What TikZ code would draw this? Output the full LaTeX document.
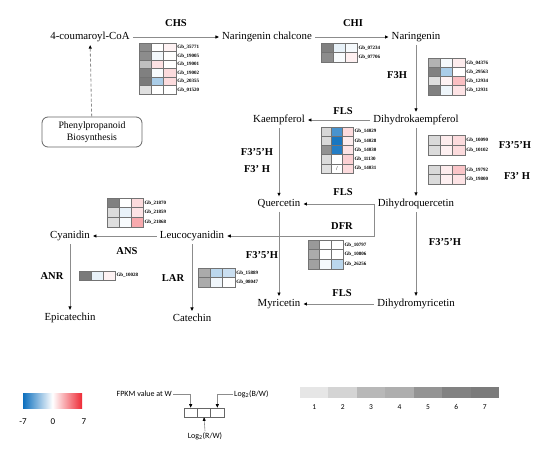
\documentclass[tikz,border=0pt]{standalone}
\usepackage{fontspec}
\setmainfont{Liberation Serif}
\newfontfamily\legfont{Carlito}
\usetikzlibrary{arrows.meta}
\definecolor{bl}{HTML}{0C6FBE}
\definecolor{rd}{HTML}{EE2A35}
\definecolor{lg1}{HTML}{E6E6E6}
\definecolor{lg2}{HTML}{D4D4D4}
\definecolor{lg3}{HTML}{B8B8B8}
\definecolor{lg4}{HTML}{AEAEAE}
\definecolor{lg5}{HTML}{949494}
\definecolor{lg6}{HTML}{828282}
\definecolor{lg7}{HTML}{7B7B7B}
\tikzset{
  cmp/.style={font=\fontsize{10.8}{12}\selectfont, inner sep=3pt},
  enz/.style={font=\fontsize{10.5}{12}\selectfont\bfseries, inner sep=1pt},
  arr/.style={draw=black!45, line width=0.8pt, -{Triangle[length=3.5pt,width=3pt,color=black]}},
  cell/.style={draw=black!55, line width=0.5pt},
  gb/.style={font=\fontsize{5}{6}\selectfont\bfseries, anchor=west, inner sep=0.5pt},
  leg/.style={font=\legfont\fontsize{8}{9}\selectfont, inner sep=1pt},
  lcell/.style={draw=black!60, line width=0.6pt, minimum width=13.33pt, minimum height=9pt, inner sep=0pt},
}
\def\hmw{12}
\def\hmh{9}
\newcommand\hrow[6]{%
  \draw[cell,fill=#3] (#1,#2) rectangle ++(\hmw,\hmh);
  \draw[cell,fill=#4] (#1+\hmw,#2) rectangle ++(\hmw,\hmh);
  \draw[cell,fill=#5] (#1+2*\hmw,#2) rectangle ++(\hmw,\hmh);
  \node[gb] (g#6) at (#1+3*\hmw+0.8,#2+0.5*\hmh) {Gb\_#6};
}
\begin{document}
\begin{tikzpicture}[x=1pt,y=-1pt]
\useasboundingbox[fill=white] (0,0) rectangle (550,449);

% compounds
\node[cmp] (coum) at (90,37) {4-coumaroyl-CoA};
\node[cmp] (chal) at (267,37) {Naringenin chalcone};
\node[cmp] (nar) at (416,37) {Naringenin};
\node[cmp] (dhk) at (416,120) {Dihydrokaempferol};
\node[cmp] (kae) at (279,120) {Kaempferol};
\node[cmp] (que) at (279,204) {Quercetin};
\node[cmp] (dhq) at (416,204) {Dihydroquercetin};
\node[cmp] (leu) at (192,236) {Leucocyanidin};
\node[cmp] (cya) at (70,236) {Cyanidin};
\node[cmp] (epi) at (70,318) {Epicatechin};
\node[cmp] (cat) at (192,318) {Catechin};
\node[cmp] (myr) at (279,304) {Myricetin};
\node[cmp] (dhm) at (416,304) {Dihydromyricetin};
\node[draw=black!60, line width=0.8pt, rounded corners=6pt, minimum width=100pt, minimum height=30pt,
      align=center, font=\fontsize{9.8}{11.5}\selectfont] (phe) at (92,132) {Phenylpropanoid\\Biosynthesis};

% enzymes
\node[enz] (eCHS) at (176,23) {CHS};
\node[enz] (eCHI) at (353,23) {CHI};
\node[enz] (eF3H) at (397,75) {F3H};
\node[enz] (eFLSa) at (343,111) {FLS};
\node[enz] (eF35a) at (257,152) {F3’5’H};
\node[enz] (eF3a) at (257,169) {F3’ H};
\node[enz] (eFLSb) at (343,192) {FLS};
\node[enz] (eDFR) at (342,226) {DFR};
\node[enz] (eF35b) at (262,255) {F3’5’H};
\node[enz] (eF35c) at (515,145) {F3’5’H};
\node[enz] (eF3b) at (517,176) {F3’ H};
\node[enz] (eF35d) at (445,242) {F3’5’H};
\node[enz] (eFLSc) at (342,293) {FLS};
\node[enz] (eANS) at (127,251) {ANS};
\node[enz] (eANR) at (52,276) {ANR};
\node[enz] (eLAR) at (173,278) {LAR};

% connectors
\draw[arr] (coum) -- (chal);
\draw[arr] (chal) -- (nar);
\draw[arr] (nar) -- (dhk);
\draw[arr] (dhk) -- (kae);
\draw[arr] (kae) -- (que);
\draw[arr] (dhk) -- (dhq);
\draw[arr] (dhq) -- (que);
\draw[arr] (dhq.west) |- (leu.east);
\draw[arr] (que) -- (myr);
\draw[arr] (dhq) -- (dhm);
\draw[arr] (dhm) -- (myr);
\draw[arr] (leu) -- (cya);
\draw[arr] (cya) -- (epi);
\draw[arr] (leu) -- (cat);
\draw[arr, densely dashed] (phe) -- (coum);

% heatmaps
% CHS
\def\hmw{12.3}\def\hmh{8.5}
\hrow{139}{43}{black!45}{white}{rd!6}{35771}
\hrow{139}{51.5}{black!45}{bl!5}{white}{19005}
\hrow{139}{60}{black!25}{rd!14}{white}{19001}
\hrow{139}{68.5}{black!50}{bl!3}{rd!17}{19002}
\hrow{139}{77}{black!52}{bl!35}{rd!17}{20355}
\hrow{139}{85.5}{black!12}{white}{white}{01520}
% CHI
\def\hmw{12}\def\hmh{9.5}
\hrow{321}{43}{black!50}{bl!10}{bl!4}{07234}
\hrow{321}{52.5}{black!45}{bl!3}{rd!7}{07706}
% F3H
\def\hmw{12.3}\def\hmh{9.25}
\hrow{428}{58}{black!30}{bl!4}{rd!9}{04376}
\hrow{428}{67.25}{black!50}{bl!35}{white}{29563}
\hrow{428}{76.5}{black!13}{rd!6}{rd!30}{12934}
\hrow{428}{85.75}{black!50}{bl!7}{rd!13}{12931}
% FLS
\def\hmw{10.7}\def\hmh{9.2}
\hrow{321}{127}{black!16}{bl!75}{rd!17}{14029}
\hrow{321}{136.2}{black!15}{bl!95}{rd!9}{14028}
\hrow{321}{145.4}{black!43}{bl!90}{rd!13}{14030}
\hrow{321}{154.6}{black!14}{white}{rd!22}{11130}
\hrow{321}{163.8}{black!12}{white}{rd!17}{14031}
\node[font=\fontsize{6}{6}\selectfont, inner sep=0pt] (slash) at (337.05,168.4) {/};
% F3'5'H right
\def\hmw{12.3}\def\hmh{10}
\hrow{428}{135}{black!15}{rd!9}{rd!17}{10090}
\hrow{428}{145}{black!14}{rd!7}{rd!17}{10102}
% F3'H right
\def\hmw{12.3}\def\hmh{9.5}
\hrow{428}{165}{black!15}{rd!9}{rd!27}{19792}
\hrow{428}{174.5}{black!14}{rd!7}{rd!13}{19800}
% ANS
\def\hmw{12}\def\hmh{9.7}
\hrow{107}{198}{black!50}{white}{rd!17}{21870}
\hrow{107}{207.7}{black!14}{bl!9}{rd!13}{21859}
\hrow{107}{217.4}{black!13}{bl!3}{rd!40}{21868}
% ANR
\def\hmw{12}\def\hmh{9}
\hrow{79}{271}{black!52}{bl!9}{rd!6}{10028}
% LAR
\def\hmw{12.3}\def\hmh{9.5}
\hrow{198}{268}{black!33}{bl!28}{bl!22}{15889}
\hrow{198}{277.5}{black!33}{bl!6}{white}{08047}
% DFR
\def\hmw{11.7}\def\hmh{9.7}
\hrow{308}{240}{black!40}{white}{white}{10797}
\hrow{308}{249.7}{black!33}{white}{white}{10806}
\hrow{308}{259.4}{black!37}{bl!4}{bl!28}{26256}

% colour bar legend
\shade[left color=bl, right color=rd, middle color=white] (23,394) rectangle (82,409);
\node[leg, font=\legfont\fontsize{9}{10}\selectfont] (cm7) at (23,422) {-7};
\node[leg, font=\legfont\fontsize{9}{10}\selectfont] (c0) at (53,422) {0};
\node[leg, font=\legfont\fontsize{9}{10}\selectfont] (cp7) at (84,422) {7};

% cell legend
\node[lcell] (lc1) at (190.67,412.5) {};
\node[lcell] (lc2) at (204,412.5) {};
\node[lcell] (lc3) at (217.33,412.5) {};
\node[leg, anchor=east] (fpkm) at (173,394) {FPKM value at W};
\node[leg, anchor=west] (logbw) at (233,394) {Log\textsubscript{2}(B/W)};
\node[leg] (logrw) at (205,436) {Log\textsubscript{2}(R/W)};
\draw[arr, line width=0.6pt] (fpkm.east) -| (lc1.north);
\draw[arr, line width=0.6pt] (logbw.west) -| (lc3.north);
\draw[arr, line width=0.6pt] (logrw.north) -- (lc2.south);

% gray scale legend
\foreach \i in {1,...,7} {
  \fill[lg\i] (300+\i*28.43-28.43,387) rectangle ++(28.43,11);
  \node[leg, font=\legfont\fontsize{7.5}{8}\selectfont] (gl\i) at (300+\i*28.43-14.2,407) {\i};
}
\end{tikzpicture}
\end{document}
